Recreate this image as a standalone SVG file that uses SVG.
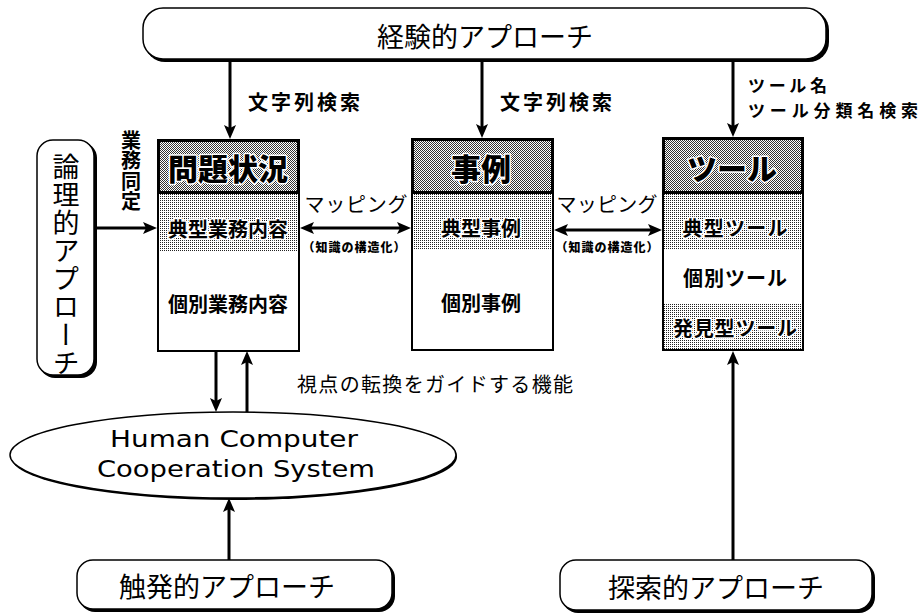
<svg xmlns="http://www.w3.org/2000/svg" width="921" height="614" viewBox="0 0 921 614">
<style>
.jp{font-family:"Noto Sans CJK JP","Noto Sans CJK SC",sans-serif;dominant-baseline:central;text-anchor:middle;fill:#000}
.ap{font-size:27px;font-weight:400}
.lbl{font-size:20px;font-weight:700}
.hd{font-size:30px;font-weight:900;stroke:#fff;stroke-width:3px;paint-order:stroke;stroke-linejoin:round}
.sec{font-size:20px;font-weight:700;stroke:#fff;stroke-width:3px;paint-order:stroke;stroke-linejoin:round}
.plain{font-size:20px;font-weight:700}
.small{font-size:12px;font-weight:900}
.box{fill:#fff;stroke:#000;stroke-width:2}
.shadow{fill:#000}
.rbox{fill:#fff;stroke:#000;stroke-width:1.5}
.hdr{fill:url(#dk);stroke:#000;stroke-width:3}
.lt{fill:url(#lt)}
.conn line{stroke:#000;stroke-width:3;fill:none}
.en{font-family:"DejaVu Sans","Liberation Sans",sans-serif;font-size:23px;text-anchor:middle;fill:#000}
.tl{font-family:"Noto Sans CJK JP","Noto Sans CJK SC",sans-serif;font-size:17px;font-weight:700;fill:#000}
</style>
<defs>
<pattern id="dk" width="2" height="2" patternUnits="userSpaceOnUse"><rect width="2" height="2" fill="#fff"/><rect width="1" height="1" fill="#333"/><rect x="1" y="1" width="1" height="1" fill="#333"/></pattern>
<pattern id="lt" width="2" height="2" patternUnits="userSpaceOnUse"><rect width="2" height="2" fill="#fff"/><rect width="1" height="1" fill="#222"/></pattern>
<marker id="ah" viewBox="0 0 14 12" markerWidth="14" markerHeight="12" refX="3" refY="6" orient="auto-start-reverse" markerUnits="userSpaceOnUse"><path d="M0,0 L14,6 L0,12 L3,6 z" fill="#000"/></marker>
</defs>
<rect width="921" height="614" fill="#fff"/>

<g id="keiken">
<rect x="145" y="10" width="684" height="52" rx="20" class="shadow"/>
<rect x="143" y="8" width="683" height="51" rx="20" class="rbox"/>
<text x="485" y="35" class="jp ap" font-size="28">経験的アプローチ</text>
</g>

<g id="ronri">
<rect x="39" y="142" width="58" height="236" rx="16" class="shadow"/>
<rect x="37" y="140" width="57" height="235" rx="16" class="rbox"/>
<text x="66" y="153" class="jp ap" style="writing-mode:vertical-rl;text-anchor:start;dominant-baseline:central;letter-spacing:1px" font-size="26">論理的アプローチ</text>
</g>

<g id="mondai">
<rect x="158" y="140" width="141" height="211" class="box"/>
<rect x="159" y="193" width="139" height="58" class="lt"/>
<rect x="158.5" y="140.5" width="140" height="52" class="hdr"/>
<text x="228" y="167" class="jp hd">問題状況</text>
<text x="228" y="228" class="jp sec">典型業務内容</text>
<text x="228" y="303" class="jp plain" font-size="21">個別業務内容</text>
</g>

<g id="jirei">
<rect x="412" y="139" width="141" height="211" class="box"/>
<rect x="413" y="193" width="139" height="57" class="lt"/>
<rect x="412.5" y="139.5" width="140" height="53" class="hdr"/>
<text x="481" y="167" class="jp hd" font-size="28">事例</text>
<text x="481" y="227" class="jp sec">典型事例</text>
<text x="481" y="302" class="jp plain" font-size="21">個別事例</text>
</g>

<g id="tool">
<rect x="663" y="138" width="140" height="212" class="box"/>
<rect x="664" y="193" width="138" height="57" class="lt"/>
<rect x="664" y="303" width="138" height="46" class="lt"/>
<rect x="663.5" y="138.5" width="139" height="54" class="hdr"/>
<text x="732" y="167" class="jp hd" font-size="28">ツール</text>
<text x="735" y="227" class="jp sec" textLength="105">典型ツール</text>
<text x="735" y="277" class="jp plain" textLength="104">個別ツール</text>
<text x="735" y="327" class="jp sec" textLength="124">発見型ツール</text>
</g>

<g id="hccs">
<ellipse cx="234" cy="457" rx="223" ry="43" class="shadow"/>
<ellipse cx="233" cy="455" rx="223" ry="43" class="rbox"/>
<text x="234" y="447" class="en" textLength="248" lengthAdjust="spacingAndGlyphs">Human Computer</text>
<text x="236" y="477" class="en" textLength="278" lengthAdjust="spacingAndGlyphs">Cooperation System</text>
</g>

<g id="shokuhatsu">
<rect x="79" y="562" width="316" height="50" rx="16" class="shadow"/>
<rect x="77" y="560" width="315" height="49" rx="16" class="rbox"/>
<text x="227" y="585" class="jp ap">触発的アプローチ</text>
</g>

<g id="tansaku">
<rect x="562" y="562" width="313" height="51" rx="16" class="shadow"/>
<rect x="560" y="560" width="312" height="50" rx="16" class="rbox"/>
<text x="716" y="586" class="jp ap">探索的アプローチ</text>
</g>

<g id="connectors" class="conn">
<line x1="230" y1="60" x2="230" y2="128" marker-end="url(#ah)"/>
<line x1="482" y1="60" x2="482" y2="127" marker-end="url(#ah)"/>
<line x1="733" y1="59" x2="733" y2="126" marker-end="url(#ah)"/>
<line x1="95" y1="228" x2="146" y2="228" marker-end="url(#ah)"/>
<line x1="311" y1="228" x2="400" y2="228" marker-start="url(#ah)" marker-end="url(#ah)"/>
<line x1="565" y1="230" x2="651" y2="230" marker-start="url(#ah)" marker-end="url(#ah)"/>
<line x1="216" y1="351" x2="216" y2="401" marker-end="url(#ah)"/>
<line x1="247" y1="412" x2="247" y2="362" marker-end="url(#ah)"/>
<line x1="229" y1="560" x2="229" y2="509" marker-end="url(#ah)"/>
<line x1="733" y1="560" x2="733" y2="362" marker-end="url(#ah)"/>
</g>

<g id="labels">
<text x="304" y="101" class="jp lbl" textLength="112">文字列検索</text>
<text x="556" y="101" class="jp lbl" textLength="112">文字列検索</text>
<text x="748" y="92" class="tl" textLength="79">ツール名</text>
<text x="748" y="117" class="tl" textLength="170">ツール分類名検索</text>
<text x="131" y="130" class="jp lbl" style="writing-mode:vertical-rl;text-anchor:start;dominant-baseline:central" font-size="20" letter-spacing="0.5">業務同定</text>
<text x="356" y="203" class="jp" font-size="20" textLength="103">マッピング</text>
<text x="354" y="246" class="jp small" textLength="103">（知識の構造化）</text>
<text x="607" y="203" class="jp" font-size="20" textLength="101">マッピング</text>
<text x="607" y="246" class="jp small" textLength="103">（知識の構造化）</text>
<text x="435" y="383" class="jp" font-size="20" textLength="276">視点の転換をガイドする機能</text>
</g>
</svg>
